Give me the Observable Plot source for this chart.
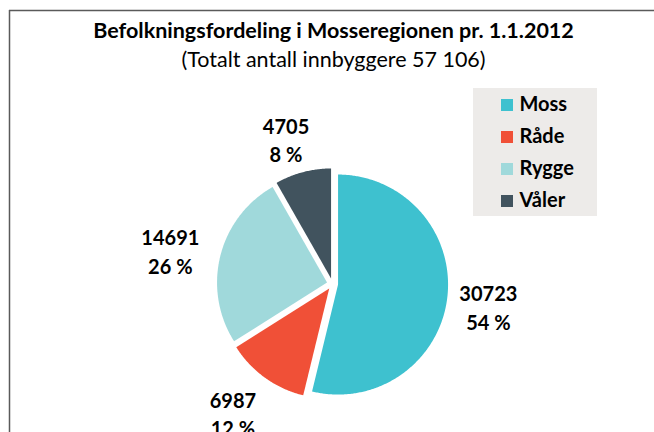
<!DOCTYPE html>
<html>
<head>
<meta charset="utf-8">
<script src="https://cdn.jsdelivr.net/npm/d3@7"></script>
<script src="https://cdn.jsdelivr.net/npm/@observablehq/plot@0.6"></script>
<style>
  html, body { margin: 0; padding: 0; background: #ffffff; }
  #chart { width: 654px; height: 432px; overflow: hidden; }
</style>
</head>
<body>
<div id="chart"></div>
<script>
const categories = ["Moss", "Råde", "Rygge", "Våler"];
const population = [30723, 6987, 14691, 4705];
const colors = ["#3EC1CF", "#F05037", "#A0D9DB", "#41535E"];
const titleText = "Befolkningsfordeling i Mosseregionen pr. 1.1.2012";
const subtitleText = "(Totalt antall innbyggere 57 106)";

const W = 654, H = 432;
const cx = 332, cy = 283.4, R = 110, explode = 5.6;
const total = d3.sum(population);

const arcs = d3.pie().sort(null).value(d => d.value)(
  categories.map((name, i) => ({name, value: population[i]}))
);

// polygon points for each slice (angles: 0 at 12 o'clock, clockwise)
const slicePoints = [];
const labels = [];
arcs.forEach(a => {
  const mid = (a.startAngle + a.endAngle) / 2;
  const ox = cx + explode * Math.sin(mid);
  const oy = cy - explode * Math.cos(mid);
  slicePoints.push({name: a.data.name, x: ox, y: oy});
  const n = Math.max(2, Math.ceil((a.endAngle - a.startAngle) / 0.01));
  for (let k = 0; k <= n; k++) {
    const t = a.startAngle + (a.endAngle - a.startAngle) * k / n;
    slicePoints.push({name: a.data.name, x: ox + R * Math.sin(t), y: oy - R * Math.cos(t)});
  }
  labels.push({
    name: a.data.name,
    x: cx - 5 + 162 * Math.sin(mid),
    y: cy + 4 - 154 * Math.cos(mid),
    text: `${a.data.value}\n${Math.round(a.data.value / total * 100)} %`
  });
});

const legendRows = categories.map((name, i) => ({name, i}));
const font = "Lato, 'Open Sans', sans-serif";

const chart = Plot.plot({
  width: W,
  height: H,
  margin: 0,
  style: {background: "#ffffff", fontFamily: font},
  x: {domain: [0, W], range: [0, W], axis: null},
  y: {domain: [0, H], range: [0, H], axis: null},
  color: {domain: categories, range: colors},
  marks: [
    // chart border (top and left edges visible)
    Plot.ruleY([10], {x1: 9, x2: W, stroke: "#5a5a5a", strokeWidth: 1.5}),
    Plot.ruleX([9], {y1: 10, y2: H, stroke: "#5a5a5a", strokeWidth: 1.5}),
    // title
    Plot.text([titleText], {x: () => 333, y: () => 31, text: d => d, fontSize: 21.5, fontWeight: "bold", fill: "#000", lineAnchor: "middle"}),
    Plot.text([subtitleText], {x: () => 333, y: () => 60, text: d => d, fontSize: 21.5, fill: "#000", lineAnchor: "middle"}),
    // pie slices
    Plot.line(slicePoints, {x: "x", y: "y", z: "name", fill: "name", stroke: "none", curve: "linear"}),
    // data labels
    Plot.text(labels, {x: "x", y: "y", text: "text", fontSize: 20, fontWeight: "bold", fill: "#000", lineAnchor: "middle", lineHeight: 1.42}),
    // legend
    Plot.rect([0], {x1: () => 473, x2: () => 597, y1: () => 88, y2: () => 216, fill: "#EDEBE9"}),
    Plot.rect(legendRows, {x1: () => 501, x2: () => 513, y1: d => 99 + d.i * 32, y2: d => 111 + d.i * 32, fill: "name"}),
    Plot.text(legendRows, {x: () => 519, y: d => 104.5 + d.i * 32, text: "name", textAnchor: "start", fontSize: 20, fontWeight: "bold", fill: "#000", lineAnchor: "middle"})
  ]
});

document.getElementById("chart").appendChild(chart);
</script>
</body>
</html>
